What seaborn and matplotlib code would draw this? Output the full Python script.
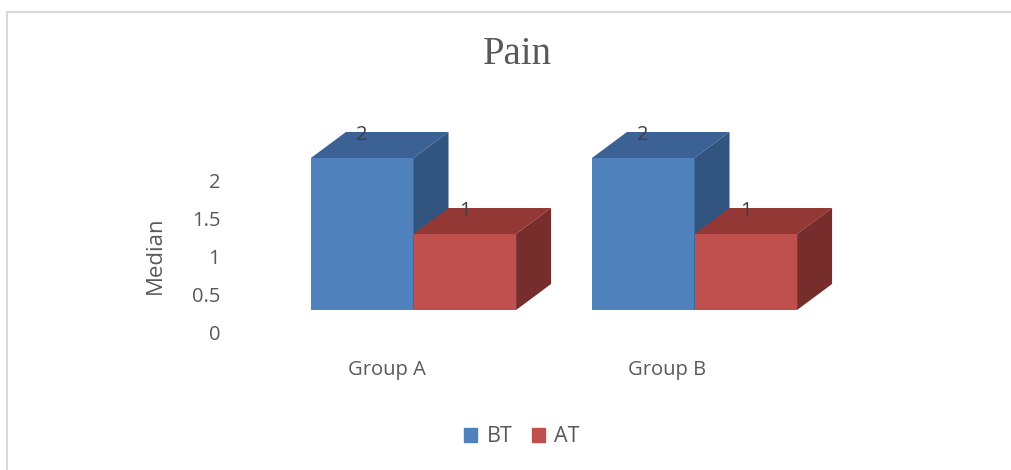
import matplotlib
matplotlib.use("Agg")
import matplotlib.pyplot as plt
import matplotlib.transforms as mtransforms
from matplotlib.patches import Polygon, Patch
from matplotlib.lines import Line2D
import pandas as pd
import seaborn as sns

# data
groups = ["Group A", "Group B"]
stages = ["BT", "AT"]
bt_median = [2, 2]
at_median = [1, 1]
y_ticks = [0, 0.5, 1, 1.5, 2]
y_tick_labels = ["0", "0.5", "1", "1.5", "2"]

df = pd.DataFrame({
    "group": groups * 2,
    "stage": ["BT"] * len(groups) + ["AT"] * len(groups),
    "median": bt_median + at_median,
})

front = {"BT": "#4F81BD", "AT": "#C0504D"}
top = {"BT": "#3C6195", "AT": "#943835"}
side = {"BT": "#32557F", "AT": "#772D2B"}
grey = "#595959"

W, H = 1011, 470
fig = plt.figure(figsize=(W / 100, H / 100), dpi=100)
sns.set_style("white")
plt.rcParams["font.family"] = ["Open Sans", "DejaVu Sans"]

# axes placed so that y=0 sits at pixel row 310 and 1 unit = 76 px
px_unit = 76
ax_l, ax_r, y0 = 230, 900, 310
ymax = 2.6
ax = fig.add_axes([ax_l / W, (H - y0) / H, (ax_r - ax_l) / W, ymax * px_unit / H])
sns.barplot(data=df, x="group", y="median", hue="stage", hue_order=stages,
            palette=front, width=0.73, saturation=1, ax=ax, legend=False,
            edgecolor="none", linewidth=0)
ax.set_ylim(0, ymax)
cat_px = 281
xc0 = 413.5
ax.set_xlim((ax_l - xc0) / cat_px, (ax_r - xc0) / cat_px)
for s in ax.spines.values():
    s.set_visible(False)

# 3d top and side faces, built from each bar's geometry
dx, dy = 35, 26
to_disp = ax.transData
inv = ax.transData.inverted()
bars = sorted(ax.patches, key=lambda p: p.get_x())
for i, p in enumerate(bars):
    stage = stages[0] if p.get_facecolor()[2] > 0.5 else stages[1]
    x0, x1 = p.get_x(), p.get_x() + p.get_width()
    h = p.get_height()
    (px0, py0), (px1, py1) = to_disp.transform([(x0, 0), (x1, h)])
    def d(pts):
        return inv.transform(pts)
    topf = d([(px0, py1), (px0 + dx, py1 + dy), (px1 + dx, py1 + dy), (px1, py1)])
    sidef = d([(px1, py0), (px1, py1), (px1 + dx, py1 + dy), (px1 + dx, py0 + dy)])
    z = 2 + i
    p.set_zorder(z)
    ax.add_patch(Polygon(topf, closed=True, fc=top[stage], ec="none", zorder=z, clip_on=False))
    ax.add_patch(Polygon(sidef, closed=True, fc=side[stage], ec="none", zorder=z, clip_on=False))
    ax.annotate(f"{h:g}", (p.get_x() + p.get_width() / 2, h), xytext=(0, 23 * 0.72),
                textcoords="offset points", ha="center", va="center",
                fontsize=14.5, color="#404040", zorder=20)

ax.set_yticks(y_ticks)
ax.set_yticklabels(y_tick_labels)
ax.tick_params(axis="y", length=0, pad=7, labelsize=14.5, labelcolor=grey)
ax.tick_params(axis="x", length=0, pad=36, labelsize=14.5, labelcolor=grey)
ax.set_xlabel("")
shift_y = mtransforms.ScaledTranslation(0, -22 / 100, fig.dpi_scale_trans)
for lab in ax.get_yticklabels():
    lab.set_transform(lab.get_transform() + shift_y)
shift_x = mtransforms.ScaledTranslation(-27 / 100, 0, fig.dpi_scale_trans)
for lab in ax.get_xticklabels():
    lab.set_transform(lab.get_transform() + shift_x)

ax.set_ylabel("Median", fontsize=16, color=grey)
ax.yaxis.label.set_va("center")
ax.yaxis.set_label_coords((155 - ax_l) / (ax_r - ax_l), (y0 - 255) / (ymax * px_unit))

fig.text(517 / W, 1 - 55 / H, "Pain", ha="center", va="center",
         fontsize=28, color=grey, family="Liberation Serif")

handles = [Patch(color=front[s], label=s) for s in stages]
fig.legend(handles=handles, loc="center", bbox_to_anchor=(522 / W, 1 - 437 / H),
           ncol=2, frameon=False, fontsize=15.5, labelcolor=grey,
           handlelength=0.6, handleheight=0.6, handletextpad=0.45, columnspacing=0.9)

# chart frame
fig.add_artist(Line2D([7 / W, 1], [1 - 12 / H, 1 - 12 / H], color="#D9D9D9", lw=1.5))
fig.add_artist(Line2D([7 / W, 7 / W], [0, 1 - 12 / H], color="#D9D9D9", lw=1.5))

fig.savefig("out.png", dpi=100)
